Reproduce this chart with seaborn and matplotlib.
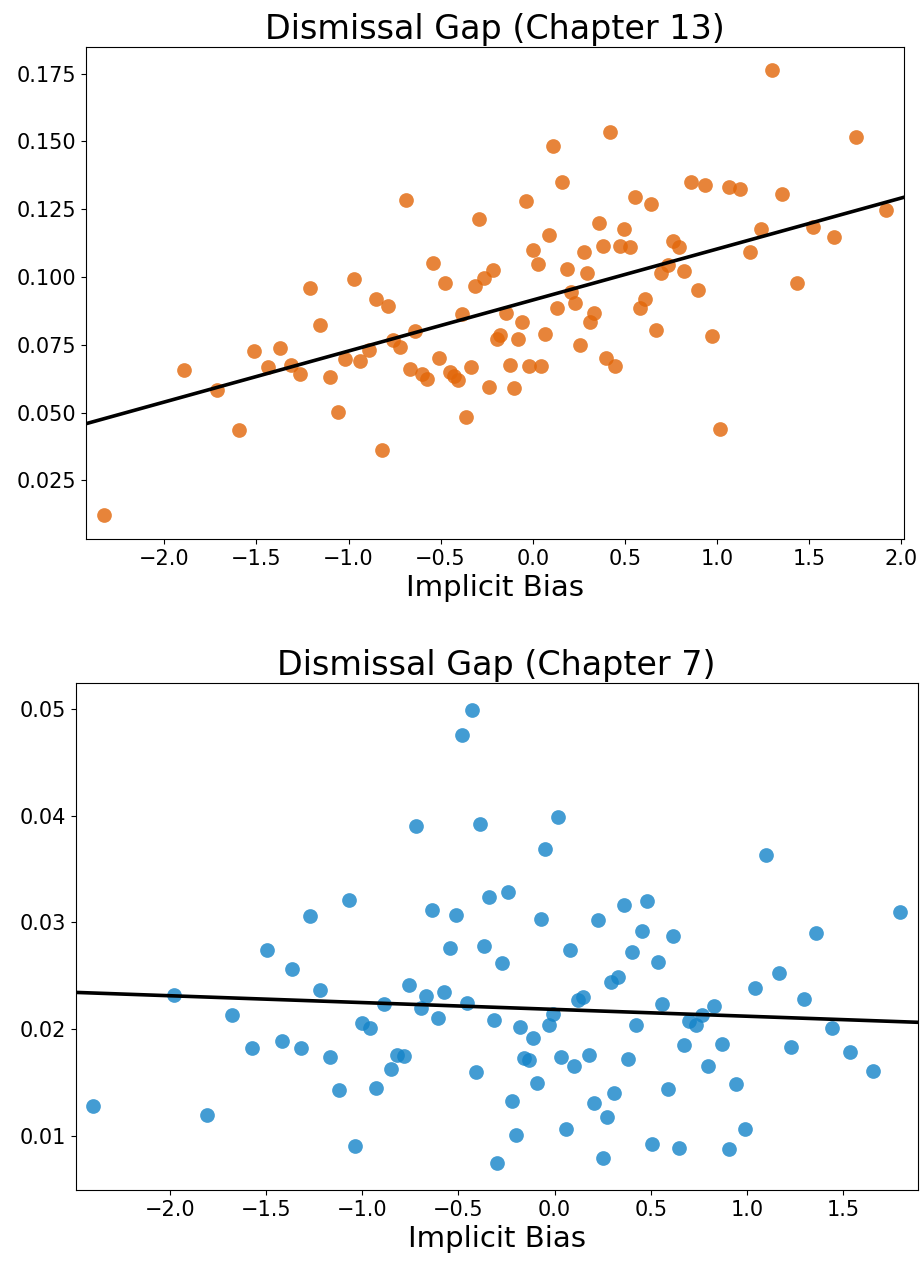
import numpy as np
import pandas as pd
import matplotlib
matplotlib.use('Agg')
import matplotlib.pyplot as plt
import seaborn as sns

# Chapter 13 data (implicit bias vs dismissal gap)
ch13_bias = [-2.327, -1.891, -1.716, -1.594, -1.513, -1.439, -1.370, -1.314, -1.263, -1.209,
             -1.153, -1.099, -1.055, -1.017, -0.972, -0.936, -0.889, -0.849, -0.818, -0.787,
             -0.760, -0.722, -0.689, -0.666, -0.639, -0.603, -0.575, -0.543, -0.509, -0.478,
             -0.449, -0.426, -0.407, -0.385, -0.362, -0.335, -0.313, -0.292, -0.263, -0.236,
             -0.217, -0.192, -0.176, -0.147, -0.122, -0.102, -0.080, -0.058, -0.035, -0.018,
             0.003, 0.027, 0.045, 0.068, 0.088, 0.110, 0.134, 0.157, 0.186, 0.208,
             0.231, 0.255, 0.279, 0.295, 0.313, 0.334, 0.360, 0.380, 0.398, 0.421,
             0.448, 0.476, 0.497, 0.530, 0.555, 0.584, 0.611, 0.641, 0.668, 0.698,
             0.735, 0.760, 0.793, 0.821, 0.861, 0.899, 0.934, 0.972, 1.017, 1.066,
             1.125, 1.181, 1.239, 1.299, 1.352, 1.433, 1.522, 1.636, 1.754, 1.918]
ch13_gap = [0.0124, 0.0658, 0.0584, 0.0437, 0.0726, 0.0668, 0.0737, 0.0677, 0.0643, 0.0959,
            0.0823, 0.0633, 0.0501, 0.0698, 0.0994, 0.0690, 0.0729, 0.0919, 0.0361, 0.0894,
            0.0769, 0.0742, 0.1282, 0.0662, 0.0801, 0.0643, 0.0624, 0.1052, 0.0701, 0.0978,
            0.0648, 0.0636, 0.0619, 0.0864, 0.0482, 0.0668, 0.0965, 0.1212, 0.0995, 0.0596,
            0.1024, 0.0771, 0.0787, 0.0869, 0.0674, 0.0589, 0.0771, 0.0835, 0.1281, 0.0670,
            0.1101, 0.1049, 0.0670, 0.0790, 0.1156, 0.1483, 0.0886, 0.1351, 0.1031, 0.0945,
            0.0904, 0.0751, 0.1093, 0.1013, 0.0834, 0.0868, 0.1198, 0.1115, 0.0701, 0.1533,
            0.0672, 0.1113, 0.1178, 0.1111, 0.1295, 0.0887, 0.0920, 0.1269, 0.0803, 0.1015,
            0.1044, 0.1133, 0.1109, 0.1021, 0.1350, 0.0951, 0.1339, 0.0784, 0.0440, 0.1330,
            0.1324, 0.1092, 0.1178, 0.1762, 0.1305, 0.0978, 0.1184, 0.1149, 0.1517, 0.1248]
# fitted line as shown (intercept, slope)
ch13_fit = [0.0915, 0.0188]

# Chapter 7 data
ch7_bias = [-2.400, -1.979, -1.806, -1.675, -1.571, -1.493, -1.418, -1.366, -1.318, -1.273,
            -1.221, -1.166, -1.119, -1.070, -1.037, -1.003, -0.959, -0.927, -0.885, -0.850,
            -0.818, -0.783, -0.757, -0.719, -0.695, -0.667, -0.639, -0.606, -0.577, -0.545,
            -0.513, -0.482, -0.457, -0.430, -0.410, -0.388, -0.367, -0.343, -0.315, -0.301,
            -0.272, -0.244, -0.222, -0.201, -0.182, -0.161, -0.134, -0.114, -0.092, -0.073,
            -0.049, -0.030, -0.010, 0.016, 0.034, 0.057, 0.079, 0.102, 0.123, 0.149,
            0.180, 0.206, 0.223, 0.251, 0.273, 0.291, 0.310, 0.330, 0.358, 0.379,
            0.400, 0.422, 0.452, 0.481, 0.507, 0.537, 0.559, 0.590, 0.616, 0.644,
            0.670, 0.699, 0.734, 0.764, 0.795, 0.828, 0.868, 0.904, 0.942, 0.989,
            1.042, 1.099, 1.167, 1.228, 1.297, 1.356, 1.442, 1.534, 1.652, 1.794]
ch7_gap = [0.0128, 0.0232, 0.0120, 0.0213, 0.0182, 0.0274, 0.0189, 0.0256, 0.0182, 0.0306,
           0.0237, 0.0174, 0.0143, 0.0321, 0.0091, 0.0206, 0.0201, 0.0145, 0.0224, 0.0163,
           0.0176, 0.0175, 0.0241, 0.0390, 0.0220, 0.0231, 0.0312, 0.0211, 0.0235, 0.0276,
           0.0307, 0.0476, 0.0225, 0.0499, 0.0160, 0.0392, 0.0278, 0.0324, 0.0209, 0.0075,
           0.0262, 0.0329, 0.0133, 0.0101, 0.0202, 0.0173, 0.0171, 0.0192, 0.0150, 0.0303,
           0.0369, 0.0204, 0.0214, 0.0399, 0.0174, 0.0107, 0.0274, 0.0166, 0.0227, 0.0230,
           0.0176, 0.0131, 0.0302, 0.0079, 0.0118, 0.0244, 0.0140, 0.0249, 0.0316, 0.0172,
           0.0272, 0.0204, 0.0292, 0.0320, 0.0093, 0.0263, 0.0224, 0.0144, 0.0287, 0.0089,
           0.0185, 0.0208, 0.0204, 0.0213, 0.0166, 0.0222, 0.0186, 0.0088, 0.0149, 0.0107,
           0.0239, 0.0363, 0.0253, 0.0183, 0.0228, 0.0290, 0.0201, 0.0179, 0.0161, 0.0310]
ch7_fit = [0.02186, -0.00064]


def plot_gap(ax, bias, gap, fit, color, title, xlim, ylim):
    '''
    Scatter of implicit bias vs dismissal gap with a full-width fitted line
    '''
    df = pd.DataFrame({'bias': bias, 'gap': gap})
    sns.regplot(x='bias', y='gap', data=df, ax=ax, fit_reg=False, color=color,
                scatter_kws={'s': 112, 'alpha': 0.8, 'linewidths': 0})
    # line spans the whole axis
    xs = np.array(xlim)
    ax.plot(xs, fit[0] + fit[1] * xs, color='black', lw=2.6)
    ax.set_xlim(*xlim)
    ax.set_ylim(*ylim)
    ax.set_title(title, fontsize=24)
    ax.set_xlabel('Implicit Bias', fontsize=21)
    ax.set_ylabel('')
    ax.tick_params(labelsize=15)


fig = plt.figure(figsize=(9.21, 12.67), dpi=100)
ax1 = fig.add_axes([0.0934, 0.5746, 0.8882, 0.3881])
ax2 = fig.add_axes([0.0822, 0.0608, 0.9142, 0.3999])

plot_gap(ax1, ch13_bias, ch13_gap, ch13_fit, '#e26608', 'Dismissal Gap (Chapter 13)',
         (-2.425, 2.016), (0.0034, 0.1847))
plot_gap(ax2, ch7_bias, ch7_gap, ch7_fit, '#1483c8', 'Dismissal Gap (Chapter 7)',
         (-2.488, 1.886), (0.00495, 0.0524))

fig.savefig('out.png', dpi=100)
